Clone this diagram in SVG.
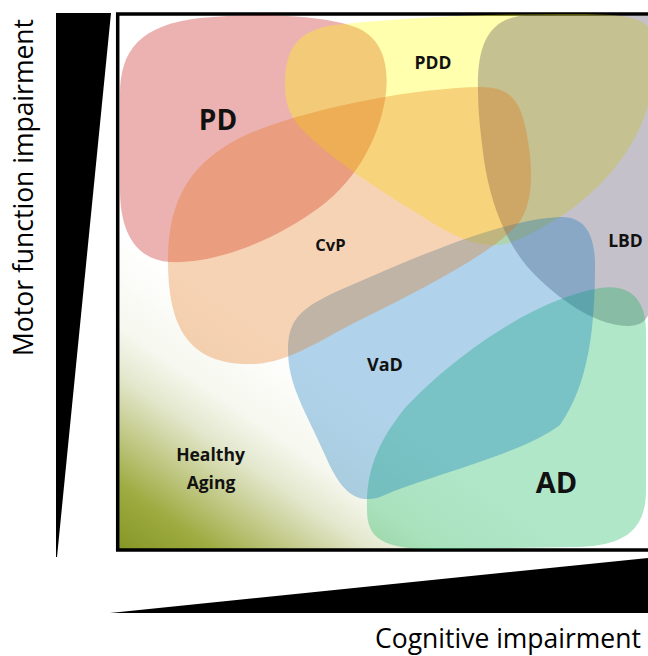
<svg xmlns="http://www.w3.org/2000/svg" width="648" height="656" viewBox="0 0 648 656">
  <defs>
    <linearGradient id="healthyGrad" gradientUnits="userSpaceOnUse" x1="119" y1="549" x2="267" y2="335">
      <stop offset="0" stop-color="#869726"/>
      <stop offset="0.2" stop-color="#9dab40"/>
      <stop offset="0.4" stop-color="#c6cd90"/>
      <stop offset="0.55" stop-color="#e3e7cc"/>
      <stop offset="0.7" stop-color="#f6f7ee"/>
      <stop offset="1" stop-color="#ffffff"/>
    </linearGradient>
  </defs>
  <style>
    .lbl { font-family: "Open Sans", "Liberation Sans", sans-serif; font-weight: 700; fill: #111111; text-anchor: middle; }
    .axis { font-family: "Open Sans", "Liberation Sans", sans-serif; font-weight: 400; fill: #000000; text-anchor: middle; font-size: 26.5px; }
    .wedge { fill: #000000; }
    .region { stroke: none; }
  </style>

  <rect width="648" height="656" fill="#ffffff"/>

  <!-- axis wedges -->
  <g id="motor-axis">
    <polygon class="wedge" points="56,13 111,13 57,557 56,557"/>
    <text class="axis" transform="translate(33,187.5) rotate(-90)" x="0" y="0">Motor function impairment</text>
  </g>
  <g id="cognitive-axis">
    <polygon class="wedge" points="110,613 648,558 648,613"/>
    <text class="axis" x="508" y="648">Cognitive impairment</text>
  </g>

  <!-- plot frame with healthy-aging gradient -->
  <g id="frame">
    <rect x="117.7" y="14" width="560" height="536" fill="url(#healthyGrad)"/>
    <rect x="117.7" y="14" width="560" height="536" fill="none" stroke="#000000" stroke-width="3.5"/>
  </g>

  <g id="healthy-aging">
    <text class="lbl" x="210.5" y="461" font-size="17.5">Healthy</text>
    <text class="lbl" x="211" y="489" font-size="17.5">Aging</text>
  </g>

  <g id="PD">
    <path class="region" fill="#c00000" fill-opacity="0.3" d="M 120,190 L 120,95 C 120,50 140,25 200,18 C 250,13 320,14 355,27 C 385,38 390,70 385,100 C 378,140 355,185 310,214 C 265,245 210,264 170,262 C 138,260 120,235 120,190 Z"/>
    <text class="lbl" x="218" y="130" font-size="28">PD</text>
  </g>

  <g id="PDD">
    <path class="region" fill="#ffff00" fill-opacity="0.32" d="M 285,85 C 285,45 300,27 345,24 C 400,18 480,14 560,14 C 620,14 652,14 652,40 L 652,80 C 650,130 610,190 545,226 C 520,240 505,247 488,245 C 470,243 450,235 420,215 C 370,185 320,150 298,125 C 288,112 285,100 285,85 Z"/>
    <text class="lbl" x="433" y="69" font-size="17.5">PDD</text>
  </g>

  <g id="LBD">
    <path class="region" fill="#3f3151" fill-opacity="0.3" d="M 478,90 C 477,45 488,16 530,15 L 651,15 L 651,300 C 651,318 643,326 628,326 C 600,326 565,305 535,275 C 505,245 490,200 484,160 C 480,130 478,110 478,90 Z"/>
    <text class="lbl" x="625.5" y="247" font-size="17.5">LBD</text>
  </g>

  <g id="AD">
    <path class="region" fill="#00b050" fill-opacity="0.31" d="M 367,510 C 366,475 375,445 405,408 C 450,360 530,300 600,288 C 630,283 646,300 646,330 L 646,490 C 646,530 625,545 580,547 L 440,549 C 385,550 367,540 367,510 Z"/>
    <text class="lbl" x="556.5" y="493" font-size="29">AD</text>
  </g>

  <g id="VaD">
    <path class="region" fill="#0070c0" fill-opacity="0.31" d="M 288,350 C 288,320 300,308 340,290 C 420,255 500,220 560,217 C 585,216 595,235 595,265 C 595,330 588,385 560,425 C 520,455 430,475 380,497 C 355,505 340,490 325,455 C 305,410 288,385 288,350 Z"/>
    <text class="lbl" x="385" y="371" font-size="18">VaD</text>
  </g>

  <g id="CvP">
    <path class="region" fill="#e46c0a" fill-opacity="0.3" d="M 168,260 C 168,200 190,160 250,133 C 320,105 420,88 480,87 C 510,87 520,100 526,130 C 532,160 536,200 518,224 C 490,255 420,290 360,320 C 320,340 290,362 255,364 C 190,366 168,330 168,260 Z"/>
    <text class="lbl" x="330.5" y="251" font-size="16.5">CvP</text>
  </g>

  <g id="connectors"></g>
</svg>
